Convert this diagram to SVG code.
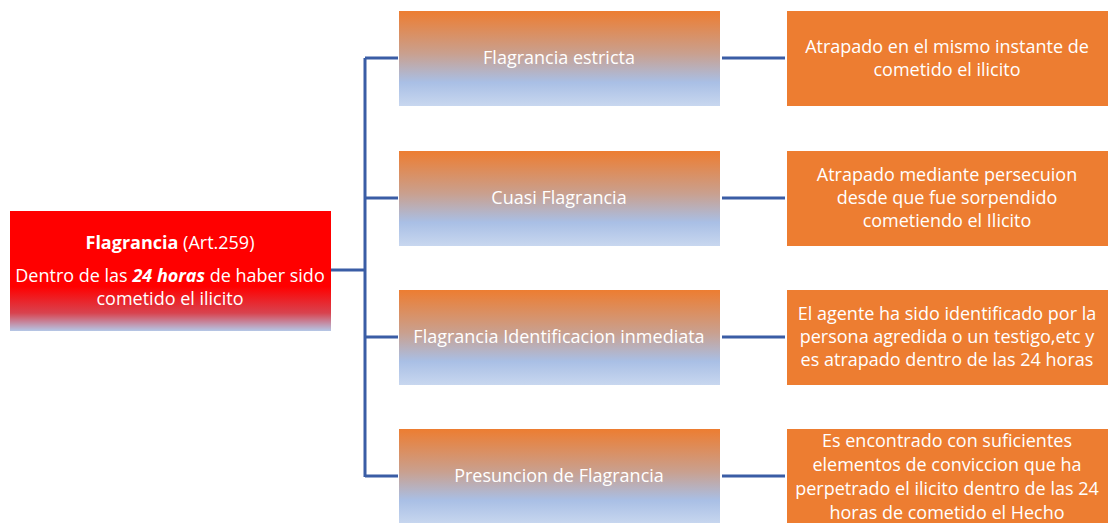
<svg xmlns="http://www.w3.org/2000/svg" width="1114" height="523" viewBox="0 0 1114 523">
<defs>
<linearGradient id="gMid" x1="0" y1="0" x2="0" y2="1">
<stop offset="0" stop-color="#ED7D31"/>
<stop offset="0.45" stop-color="#C9A08F"/>
<stop offset="0.75" stop-color="#A9BFE5"/>
<stop offset="1" stop-color="#C8D7EF"/>
</linearGradient>
<linearGradient id="gRoot" x1="0" y1="0" x2="0" y2="1">
<stop offset="0" stop-color="#FF0000"/>
<stop offset="0.63" stop-color="#FF0000"/>
<stop offset="0.85" stop-color="#D8434F"/>
<stop offset="1" stop-color="#B4C7E7"/>
</linearGradient>
<style>
.mid{fill:url(#gMid);}
.right{fill:#ED7D31;}
.t{font-family:"Open Sans","Liberation Sans",Arial,sans-serif;font-size:18px;fill:#FFFFFF;text-anchor:middle;}
.conn{stroke:#3A5DA5;stroke-width:3;fill:none;}
</style>
</defs>
<rect width="1114" height="523" fill="#FFFFFF"/>
<g id="connectors">
<path class="conn" d="M331 270 H365 M365 58 V477 M365 58 H398 M365 198 H398 M365 337 H398 M365 476 H398"/>
<path class="conn" d="M722 58 H785 M722 198 H785 M722 337 H785 M722 476 H785"/>
</g>
<g id="root">
<rect x="10" y="211" width="321" height="120" fill="url(#gRoot)"/>
<text class="t" x="170" y="249"><tspan font-weight="bold">Flagrancia</tspan> (Art.259)</text>
<text class="t" x="170" y="282">Dentro de las <tspan font-weight="bold" font-style="italic">24 horas</tspan> de haber sido</text>
<text class="t" x="170" y="305">cometido el ilicito</text>
</g>
<g id="n1">
<rect class="mid" x="399" y="11" width="321" height="95"/>
<text class="t" x="559" y="64">Flagrancia estricta</text>
</g>
<g id="n2">
<rect class="mid" x="399" y="151" width="321" height="95"/>
<text class="t" x="559" y="204">Cuasi Flagrancia</text>
</g>
<g id="n3">
<rect class="mid" x="399" y="290" width="321" height="95"/>
<text class="t" x="559" y="343">Flagrancia Identificacion inmediata</text>
</g>
<g id="n4">
<rect class="mid" x="399" y="429" width="321" height="95"/>
<text class="t" x="559" y="482">Presuncion de Flagrancia</text>
</g>
<g id="r1">
<rect class="right" x="787" y="11" width="321" height="95"/>
<text class="t" x="947" y="53">Atrapado en el mismo instante de</text>
<text class="t" x="947" y="76">cometido el ilicito</text>
</g>
<g id="r2">
<rect class="right" x="787" y="151" width="321" height="95"/>
<text class="t" x="947" y="181">Atrapado mediante persecuion</text>
<text class="t" x="947" y="204">desde que fue sorpendido</text>
<text class="t" x="947" y="227">cometiendo el Ilicito</text>
</g>
<g id="r3">
<rect class="right" x="787" y="290" width="321" height="95"/>
<text class="t" x="947" y="320">El agente ha sido identificado por la</text>
<text class="t" x="947" y="343">persona agredida o un testigo,etc y</text>
<text class="t" x="947" y="366">es atrapado dentro de las 24 horas</text>
</g>
<g id="r4">
<rect class="right" x="787" y="429" width="321" height="95"/>
<text class="t" x="947" y="447">Es encontrado con suficientes</text>
<text class="t" x="947" y="471">elementos de conviccion que ha</text>
<text class="t" x="947" y="495">perpetrado el ilicito dentro de las 24</text>
<text class="t" x="947" y="519">horas de cometido el Hecho</text>
</g>
</svg>
